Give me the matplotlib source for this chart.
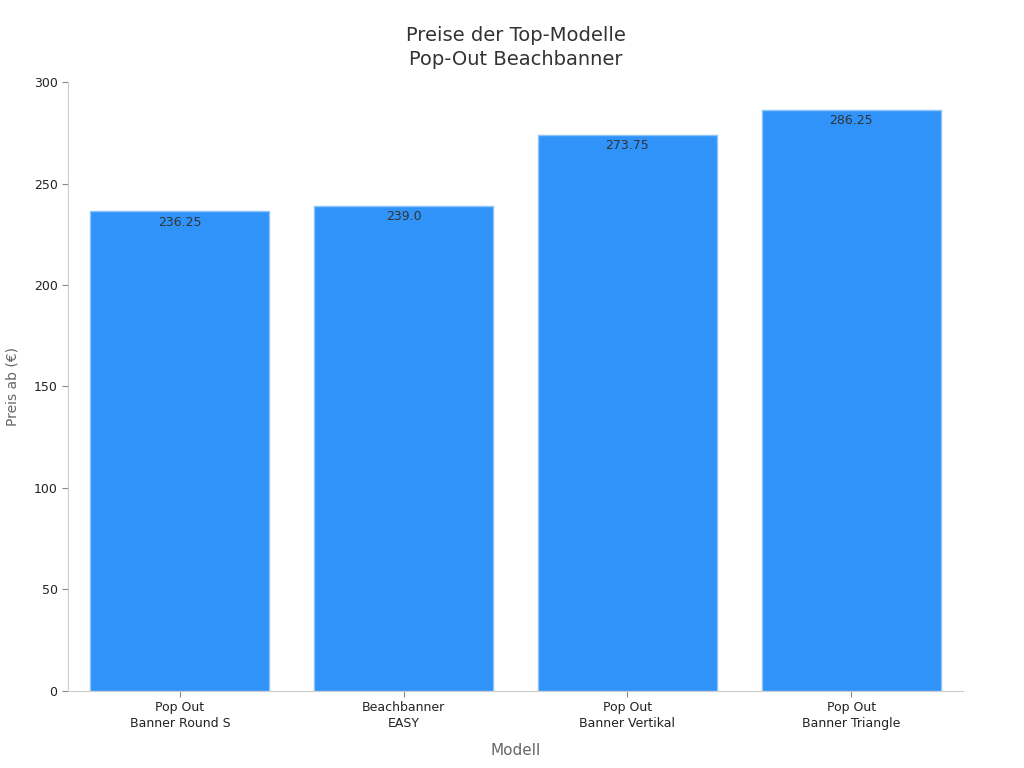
import numpy as np
import matplotlib
matplotlib.use("Agg")
import matplotlib.pyplot as plt

# Daten
modelle = ["Pop Out\nBanner Round S", "Beachbanner\nEASY", "Pop Out\nBanner Vertikal", "Pop Out\nBanner Triangle"]
preise = [236.25, 239.0, 273.75, 286.25]
preis_labels = ["236.25", "239.0", "273.75", "286.25"]

fig = plt.figure(figsize=(10.24, 7.68), dpi=100)
ax = fig.add_axes([0.0664, 0.1003, 0.8740, 0.7929])

x = np.arange(len(modelle))
bars = ax.bar(x, preise, width=0.8, color="#2F93FA", edgecolor="#8CC3FB", linewidth=1.0)

for b, lab in zip(bars, preis_labels):
    ax.annotate(lab, (b.get_x() + b.get_width() / 2, b.get_height()),
                xytext=(0, -3), textcoords="offset points",
                ha="center", va="top", fontsize=9, color="#333333")

ax.set_xlim(-0.5, 3.5)
ax.set_ylim(0, 300)
ax.set_yticks(np.arange(0, 301, 50))
ax.set_xticks(x)
ax.set_xticklabels(modelle, fontsize=9, color="#222222", linespacing=1.3)
ax.tick_params(axis="y", labelsize=9, colors="#222222")
ax.tick_params(axis="both", color="#888888", length=4)

for s in ["top", "right"]:
    ax.spines[s].set_visible(False)
for s in ["left", "bottom"]:
    ax.spines[s].set_color("#cccccc")

ax.set_xlabel("Modell", fontsize=11, color="#666666", labelpad=9)
ax.set_ylabel("Preis ab (€)", fontsize=10, color="#666666", labelpad=10)
ax.set_title("Preise der Top-Modelle\nPop-Out Beachbanner", fontsize=14, color="#333333",
             pad=12, linespacing=1.35)

fig.savefig("out.png", dpi=100)
